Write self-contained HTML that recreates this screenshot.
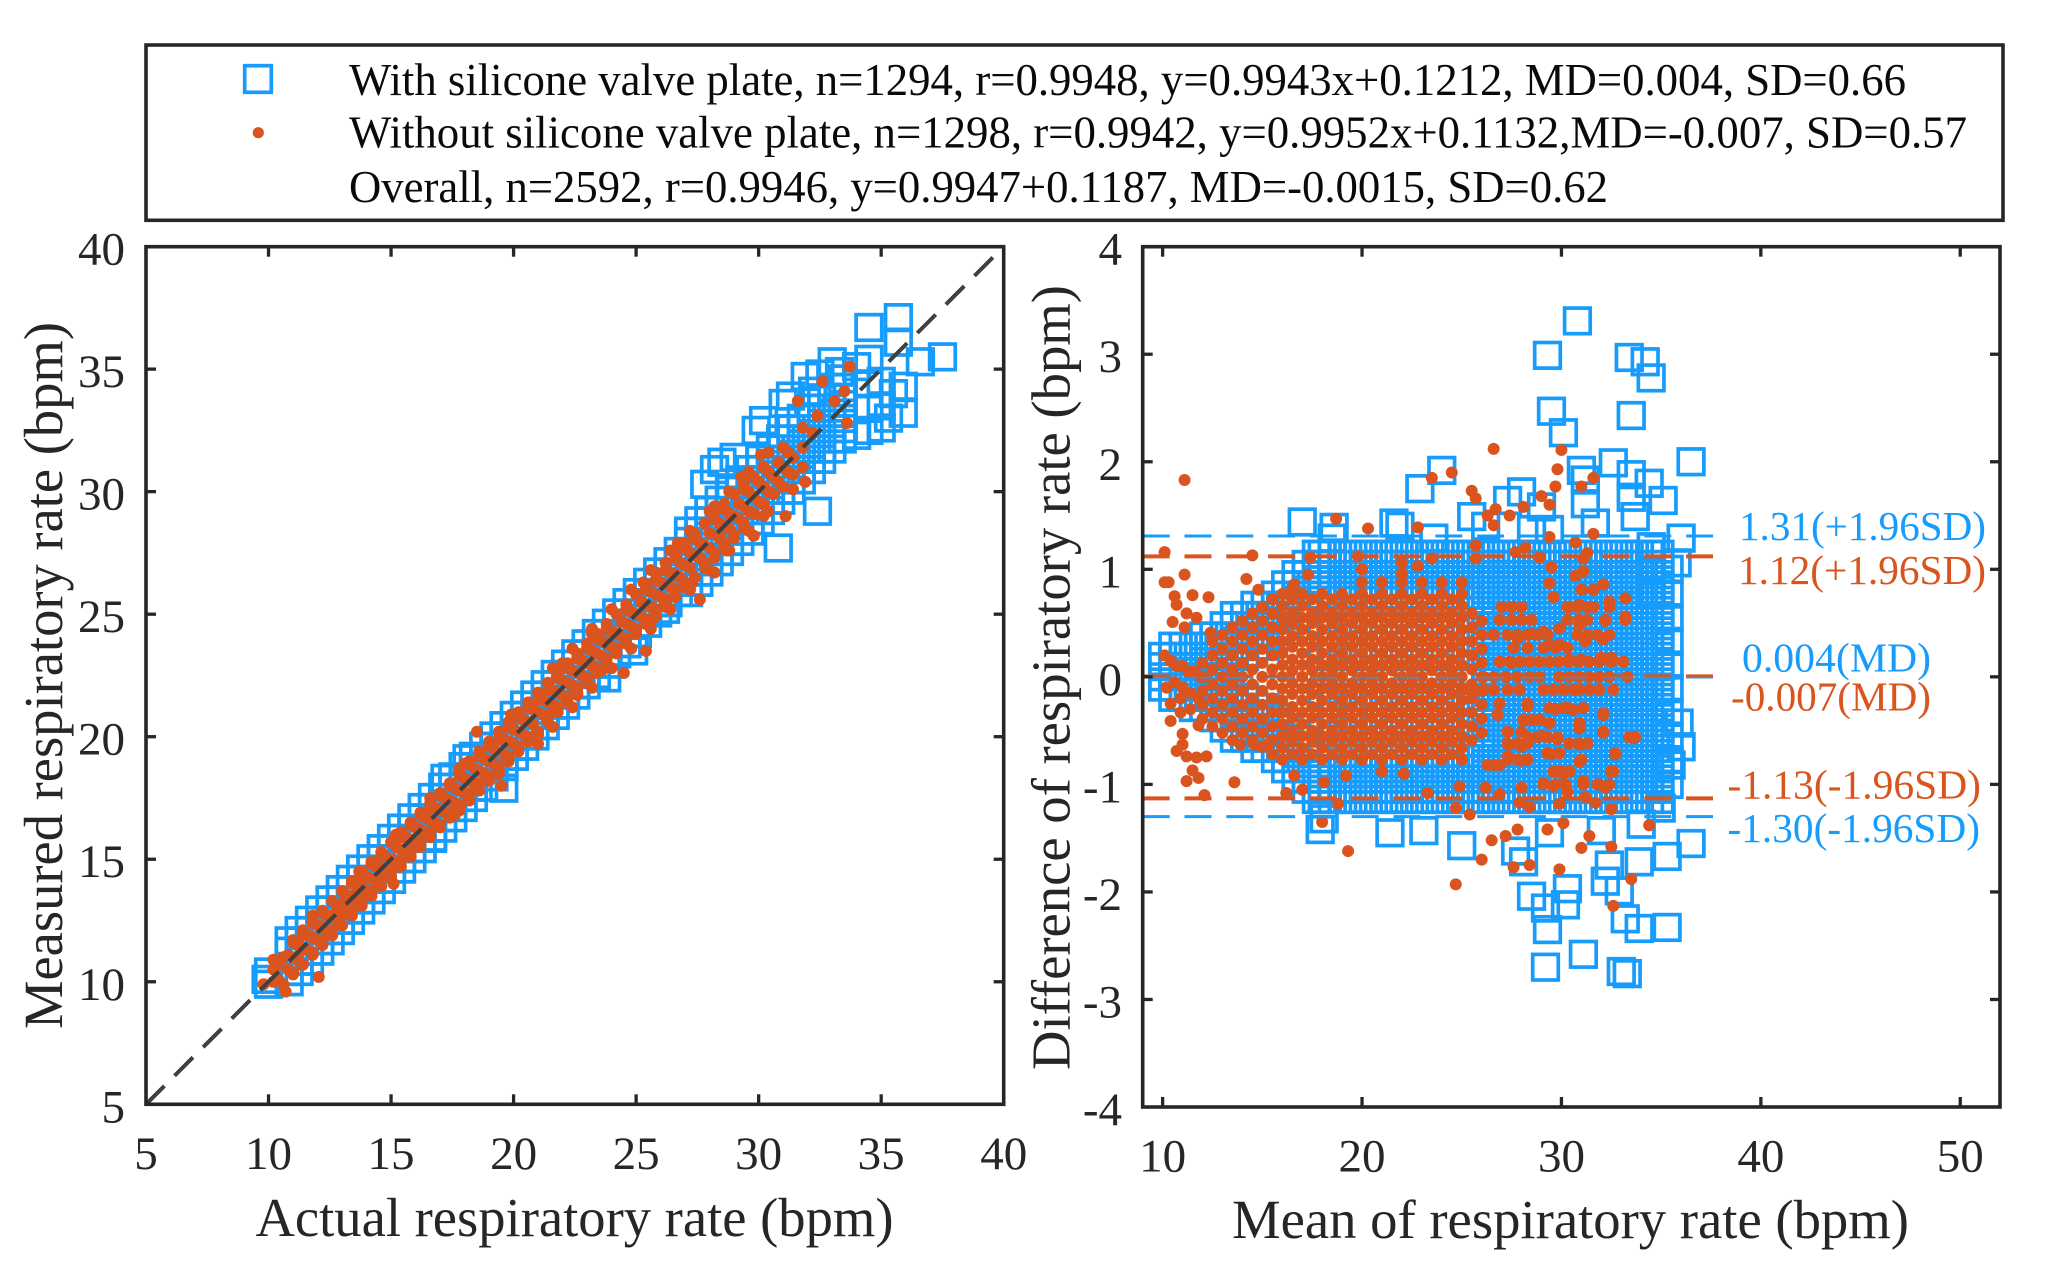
<!DOCTYPE html>
<html lang="en">
<head>
<meta charset="utf-8">
<title>Respiratory rate agreement charts</title>
<style>
html,body{margin:0;padding:0;background:#fff;}
svg{display:block;}
text{font-family:"Liberation Serif","Times New Roman",serif;}
</style>
</head>
<body>
<svg id="figure" xmlns="http://www.w3.org/2000/svg" width="2050" height="1263" viewBox="0 0 2050 1263">
<rect x="0" y="0" width="2050" height="1263" fill="#fff"/>
<g id="left-plot"></g>
<g id="right-plot"></g>
<g>
<rect x="146" y="45" width="1857" height="175.3" fill="#fff" stroke="#262626" stroke-width="3.6"/>
<rect x="244.7" y="65.7" width="26.6" height="26.6" fill="none" stroke="#169CFC" stroke-width="3.7"/>
<circle cx="258.3" cy="132.7" r="5.6" fill="#D9541E"/>
<text x="349" y="95" font-size="46" fill="#0a0a0a" textLength="1557" lengthAdjust="spacingAndGlyphs">With silicone valve plate, n=1294, r=0.9948, y=0.9943x+0.1212, MD=0.004, SD=0.66</text>
<text x="349" y="147.7" font-size="46" fill="#0a0a0a" textLength="1618" lengthAdjust="spacingAndGlyphs">Without silicone valve plate, n=1298, r=0.9942, y=0.9952x+0.1132,MD=-0.007, SD=0.57</text>
<text x="349" y="202" font-size="46" fill="#0a0a0a" textLength="1259" lengthAdjust="spacingAndGlyphs">Overall, n=2592, r=0.9946, y=0.9947+0.1187, MD=-0.0015, SD=0.62</text>
</g>
</svg>
<script>
/* ---------- left chart: measured vs actual ---------- */
const leftTicks = [5,10,15,20,25,30,35,40];
const withActual = [
36.6,37.5,35.7,35.7,35.9,35.9,34.5,34.5,33,32.4,31.9,32.2,32.5,33.3,31.3,31,30.2,29.9,29,28.5,28.2,27.8,30.8,18.1,17.2,19.6,16.7,24.9,23.8,26.2,9.9,10,10,
34,34.5,35,35,35,34.5,34,34.5,35.3,35.5,
10.84,10.84,10.84,10.84,
11.25,11.25,11.25,11.25,
11.67,11.67,11.67,11.67,
12.09,12.09,12.09,12.09,
12.51,12.51,12.51,12.51,
12.93,12.93,12.93,12.93,
13.34,13.34,13.34,13.34,
13.76,13.76,13.76,13.76,
14.18,14.18,14.18,14.18,
14.6,14.6,14.6,14.6,
15.02,15.02,15.02,15.02,
15.43,15.43,15.43,15.43,
15.85,15.85,15.85,15.85,
16.27,16.27,16.27,16.27,
16.69,16.69,16.69,16.69,
17.11,17.11,17.11,17.11,
17.52,17.52,17.52,17.52,
17.94,17.94,17.94,17.94,
18.36,18.36,18.36,18.36,
18.78,18.78,18.78,18.78,
19.2,19.2,19.2,19.2,
19.61,19.61,19.61,19.61,
20.03,20.03,20.03,20.03,
20.45,20.45,20.45,20.45,
20.87,20.87,20.87,20.87,
21.29,21.29,21.29,21.29,
21.7,21.7,21.7,21.7,
22.12,22.12,22.12,22.12,
22.54,22.54,22.54,22.54,
22.96,22.96,22.96,22.96,
23.38,23.38,23.38,23.38,
23.79,23.79,23.79,23.79,
24.21,24.21,24.21,24.21,
24.63,24.63,24.63,24.63,
25.05,25.05,25.05,25.05,
25.47,25.47,25.47,25.47,
25.88,25.88,25.88,25.88,
26.3,26.3,26.3,26.3,
26.72,26.72,26.72,26.72,
27.14,27.14,27.14,27.14,27.14,27.14,
27.56,27.56,27.56,27.56,27.56,27.56,
27.97,27.97,27.97,27.97,27.97,27.97,
28.39,28.39,28.39,28.39,28.39,28.39,
28.81,28.81,28.81,28.81,28.81,28.81,
29.23,29.23,29.23,29.23,29.23,29.23,
29.65,29.65,29.65,29.65,29.65,29.65,
30.06,30.06,30.06,30.06,30.06,30.06,
30.48,30.48,30.48,30.48,30.48,30.48,
30.9,30.9,30.9,30.9,30.9,30.9,
31.32,31.32,31.32,31.32,31.32,31.32,
31.74,31.74,31.74,31.74,31.74,31.74,
32.15,32.15,32.15,32.15,32.15,32.15,
32.57,32.57,32.57,32.57,32.57,32.57,
32.99,32.99,32.99,32.99,32.99,32.99,
33.41,33.41,33.41,33.41,33.41,33.41];
const withMeasured = [
35.3,35.5,37.1,36.1,34.3,33.2,35.4,36.7,35.3,29.2,34.7,34.1,34.8,34.9,33.9,33.6,32.9,32.5,31.4,31.2,30.9,30.3,27.7,19.1,18.3,17.9,15.9,23.5,22.4,25.2,10.1,9.9,10.4,
32.3,32.5,32.6,33.5,34.5,33.4,35.1,34.4,33,34,
10,10.42,11.25,11.67,
10.42,10.84,11.67,12.09,
10.84,11.25,12.09,12.51,
11.25,11.67,12.51,12.93,
11.67,12.09,12.93,13.34,
12.09,12.51,13.34,13.76,
12.51,12.93,13.76,14.18,
12.93,13.34,14.18,14.6,
13.34,13.76,14.6,15.02,
13.76,14.18,15.02,15.43,
14.18,14.6,15.43,15.85,
14.6,15.02,15.85,16.27,
15.02,15.43,16.27,16.69,
15.43,15.85,16.69,17.11,
15.85,16.27,17.11,17.52,
16.27,16.69,17.52,17.94,
16.69,17.11,17.94,18.36,
17.11,17.52,18.36,18.78,
17.52,17.94,18.78,19.2,
17.94,18.36,19.2,19.61,
18.36,18.78,19.61,20.03,
18.78,19.2,20.03,20.45,
19.2,19.61,20.45,20.87,
19.61,20.03,20.87,21.29,
20.03,20.45,21.29,21.7,
20.45,20.87,21.7,22.12,
20.87,21.29,22.12,22.54,
21.29,21.7,22.54,22.96,
21.7,22.12,22.96,23.38,
22.12,22.54,23.38,23.79,
22.54,22.96,23.79,24.21,
22.96,23.38,24.21,24.63,
23.38,23.79,24.63,25.05,
23.79,24.21,25.05,25.47,
24.21,24.63,25.47,25.88,
24.63,25.05,25.88,26.3,
25.05,25.47,26.3,26.72,
25.47,25.88,26.72,27.14,
25.88,26.3,27.14,27.56,
25.88,26.3,26.72,27.56,27.97,28.39,
26.3,26.72,27.14,27.97,28.39,28.81,
26.72,27.14,27.56,28.39,28.81,29.23,
27.14,27.56,27.97,28.81,29.23,29.65,
27.56,27.97,28.39,29.23,29.65,30.06,
27.97,28.39,28.81,29.65,30.06,30.48,
28.39,28.81,29.23,30.06,30.48,30.9,
28.81,29.23,29.65,30.48,30.9,31.32,
29.23,29.65,30.06,30.9,31.32,31.74,
29.65,30.06,30.48,31.32,31.74,32.15,
30.06,30.48,30.9,31.74,32.15,32.57,
30.48,30.9,31.32,32.15,32.57,32.99,
30.9,31.32,31.74,32.57,32.99,33.41,
31.32,31.74,32.15,32.99,33.41,33.83,
31.74,32.15,32.57,33.41,33.83,34.25,
32.15,32.57,32.99,33.83,34.25,34.6];
const withoutActual = [
9.8,10.2,10.2,10.2,
10.6,10.7,10.6,
11,11,11,
11.4,11.4,11.4,
11.8,11.8,11.8,11.8,
12.2,12.2,12.2,12.05,
12.6,12.6,
13,13.1,
13.4,13.4,13.4,
13.8,13.8,13.8,
14.2,14.2,14.2,
14.6,14.6,14.6,
15,15,15.1,
15.4,15.4,15.4,
15.8,15.8,15.8,
16.2,16.2,16.2,
16.6,16.6,16.6,
17,17,17,
17.4,17.4,17.4,
17.8,17.8,17.8,17.8,
18.2,18.2,18.5,
18.6,18.6,18.6,
19,19,19,
19.4,19.5,19.4,
19.8,19.8,19.8,
20.2,20.2,20.2,
20.6,20.6,20.6,
21,21,21,
21.4,21.4,21.4,
21.8,21.8,21.8,
22.2,22.2,22.2,
22.6,22.6,22.6,
23,23,23,
23.4,23.4,23.4,
23.8,23.8,23.8,
24.2,24.2,24.5,
24.6,24.6,24.6,
25,25,25.4,
25.4,25.4,25.4,
25.8,25.8,25.8,
26.2,26.3,26.2,
26.6,26.6,26.6,
27,27,27,
27.6,27.4,27.4,
27.8,27.8,28.2,
28.2,28.4,28.2,
28.6,28.6,28.6,
29,29,29.8,
29.4,29.4,29.4,
29.8,29.8,29.8,
30.2,30.2,30.2,
30.6,30.6,31.1,
31,31,31,
31.4,31.4,31.6,
31.8,31.8,31.8,
32.4,32.6,32.2,
33.7,33.5,33.1,33.6,
10.4,10.4,10.8,10.8,11.2,11.2,11.6,11.6,12,12,12.4,12.4,12.8,12.8,13.2,13.2,
13.6,13.6,14,14,14.4,14.4,14.8,14.8,15.2,15.2,15.6,15.6,16,16,16.4,16.4,
16.8,16.8,17.2,17.2,17.6,17.6,18,18,18.4,18.4,18.8,18.8,19.2,19.2,19.6,19.6,
20,20,20.4,20.4,20.8,20.8,21.2,21.2,21.6,21.6,22,22,22.4,22.4,22.8,22.8,
23.2,23.2,23.6,23.6,24,24,24.4,24.4,24.8,24.8,25.2,25.2,25.6,25.6,26,26,
26.4,26.4,26.8,26.8,27.2,27.2,27.6,27.6,28,28,28.4,28.4,28.8,28.8,29.2,29.2,
29.6,29.6,30,30,30.4,30.4,30.8,30.8,31.2,31.2,
13.7,15.2,16.6,18,19.9,22,23.2,25.3,26.7,28.2,29.3,30.1,
17.6,18.2,19.4,21,22.6,23.6,25.6,27.3,28.7,30.2,31.4,31.9,
11,11,11.4,11.4,11.8,11.8,12.2,12.2,12.6,12.6,13,13,13.4,13.4,13.8,13.8,14.2,14.2,14.6,14.6,
15,15,15.4,15.4,15.8,15.8,16.2,16.2,16.6,16.6,17,17,17.4,17.4,17.8,17.8,18.2,18.2,18.6,18.6,
19,19,19.4,19.4,19.8,19.8,20.2,20.2,20.6,20.6,21,21,21.4,21.4,
21.8,21.8,22.2,22.2,22.6,22.6,23,23,23.4,23.4,23.8,23.8,24.2,24.2,24.6,24.6,25,25,25.4,25.4,
25.8,25.8,26.2,26.2,26.6,26.6,27,27,27.4,27.4,27.8,27.8,28.2,28.2,28.6,28.6,29,29,29.4,29.4,
21.6,21.6,22.4,22.4,23.2,23.2,24,24,24.8,24.8,25.6,25.6,26.4,26.4,27.2,27.2,28,28,28.8,28.8,29.6,29.6,30.4,30.4];
const withoutMeasured = [
9.9,10,10.5,10.9,
9.9,9.6,11,
10.4,11,11.6,
10.7,11.3,11.9,
11.2,11.8,12.4,12.7,
11.7,12.2,12.8,10.2,
12.1,12.7,
12.7,13.3,
13,13.5,14,
13.4,13.9,14.3,
13.7,14.2,14.8,
14.2,14.6,15.1,
14.5,15,14,
14.9,15.4,15.9,
15.3,15.8,16.4,
15.7,16.2,16.8,
16.1,16.6,17.1,
16.4,17,17.6,
16.9,17.4,18,
17.2,17.8,18.4,18.7,
17.7,18.2,20.2,
18.1,18.6,19.2,
18.4,19,19.6,
18.8,18,19.9,
19.2,19.8,20.4,
19.6,20.2,20.8,
20,20.6,21.2,
19.7,21,21.5,
20.9,21.4,21.9,
21.2,21.8,22.4,
21.6,22.2,22.8,
22,22.6,23.2,
22.4,23,23.6,
22.8,23.4,24,
23.2,23.8,24.4,
23.6,24.2,22.6,
24,24.6,25.2,
24.4,25,23.5,
24.8,25.4,26,
25.2,25.8,26.4,
25.6,26.2,26.8,
26,26.6,27.3,
26.3,27,27.7,
25.6,27.4,28.1,
27.1,27.8,26.7,
27.5,28.2,28.9,
27.9,28.6,29.3,
28.2,29,28.2,
28.7,29.4,30.1,
29.1,29.8,30.6,
29.5,30.2,31,
29.9,30.6,29,
30.2,31,31.8,
30.7,31.4,33.7,
31,31.8,32.6,
33.1,34.5,32.4,
35.1,34.1,33.7,32.8,
10.1,10.7,10.5,11.1,10.9,11.5,11.3,11.9,11.7,12.3,12.1,12.7,12.5,13.1,12.9,13.5,
13.3,13.9,13.7,14.3,14.1,14.7,14.5,15.1,14.9,15.5,15.3,15.9,15.7,16.3,16.1,16.7,
16.5,17.1,16.9,17.5,17.3,17.9,17.7,18.3,18.1,18.7,18.5,19.1,18.9,19.5,19.3,19.9,
19.7,20.3,20.1,20.7,20.5,21.1,20.9,21.5,21.3,21.9,21.7,22.3,22.1,22.7,22.5,23.1,
22.9,23.5,23.3,23.9,23.7,24.3,24.1,24.7,24.5,25.1,24.9,25.5,25.3,25.9,25.7,26.3,
26.1,26.7,26.5,27.1,26.9,27.5,27.3,27.9,27.7,28.3,28.1,28.7,28.5,29.1,28.9,29.5,
29.2,30,29.6,30.4,30,30.8,30.4,31.2,30.8,31.6,
14.5,16,17.5,18.9,20.9,23,24.2,26.3,27.9,29.4,30.6,31.5,
16.8,17.4,18.5,20.1,21.7,22.7,24.7,26.3,27.6,29,30.1,30.4,
10.3,11.7,10.7,12.1,11.1,12.5,11.5,12.9,11.9,13.3,12.3,13.7,12.7,14.1,13.1,14.5,13.5,14.9,13.9,15.3,
14.3,15.7,14.7,16.1,15.1,16.5,15.5,16.9,15.9,17.3,16.3,17.7,16.7,18.1,17,18.6,17.4,19,17.8,19.4,
18.2,19.8,18.6,20.2,19,20.6,19.4,21,19.8,21.4,20.2,21.8,20.6,22.2,
21,22.6,21.4,23,21.8,23.4,22.2,23.8,22.6,24.2,23,24.6,23.4,25,23.8,25.4,24.2,25.8,24.6,26.2,
24.9,26.7,25.3,27.1,25.7,27.5,26.1,27.9,26.5,28.3,26.9,28.7,27.3,29.1,27.7,29.5,28.1,29.9,28.5,30.3,
20.4,22.8,21.2,23.6,22,24.4,22.8,25.2,23.6,26,24.4,26.8,25.2,27.6,26,28.4,26.8,29.2,27.6,30,28.4,30.8,29.2,31.6];

/* ---------- right chart: difference vs mean ---------- */
const rightXTicks = [10,20,30,40,50];
const rightYTicks = [-4,-3,-2,-1,0,1,2,3,4];
const rightYTickLabels = ['-4','-3','-2','-1','0','1','2','3','4'];
const limitValues = [1.31,1.12,0.004,-0.007,-1.13,-1.30];
const withMean = [
30.8,29.3,33.4,34.2,34.5,29.5,33.5,30.1,36.5,24,22.9,31,32.6,33.5,34.4,35.1,31.2,28,27.3,29,33.5,33.7,31.2,
17,18.6,18.5,21.6,21.9,23.6,25.5,26.2,28.5,29.4,31.7,36,34.5,35.8,34.5,34.5,
36.5,35.3,33.9,32.2,32.9,30.3,28.5,29.2,30.2,33.2,33.9,35.3,29.3,31.1,29.2,33,33.3,17.9,18.1,21.4,23.1,25,27.7,28.1,29.4,32.4,35,34,32,
35.9,36,35.5,
10,10,10,10,
10.51,10.51,10.51,10.51,10.51,10.51,
11.03,11.03,11.03,11.03,11.03,11.03,
11.54,11.54,11.54,11.54,11.54,11.54,11.54,
12.06,12.06,12.06,12.06,12.06,12.06,12.06,12.06,
12.57,12.57,12.57,12.57,12.57,12.57,12.57,12.57,12.57,
13.09,13.09,13.09,13.09,13.09,13.09,13.09,13.09,13.09,13.09,13.09,
13.6,13.6,13.6,13.6,13.6,13.6,13.6,13.6,13.6,13.6,
14.11,14.11,14.11,14.11,14.11,14.11,14.11,14.11,14.11,14.11,
14.63,14.63,14.63,14.63,14.63,14.63,14.63,14.63,14.63,14.63,
15.14,15.14,15.14,15.14,15.14,15.14,15.14,15.14,15.14,15.14,
15.66,15.66,15.66,15.66,15.66,15.66,15.66,15.66,15.66,15.66,
16.17,16.17,16.17,16.17,16.17,16.17,16.17,16.17,16.17,16.17,
16.69,16.69,16.69,16.69,16.69,16.69,16.69,16.69,16.69,16.69,
17.2,17.2,17.2,17.2,17.2,17.2,17.2,17.2,17.2,17.2,
17.71,17.71,17.71,17.71,17.71,17.71,17.71,17.71,17.71,17.71,
18,18,18,18,18,18,18,18,18,18,18,18,18,18,
18.51,18.51,18.51,18.51,18.51,18.51,18.51,18.51,18.51,18.51,18.51,18.51,18.51,18.51,
19.03,19.03,19.03,19.03,19.03,19.03,19.03,19.03,19.03,19.03,19.03,19.03,19.03,19.03,
19.54,19.54,19.54,19.54,19.54,19.54,19.54,19.54,19.54,19.54,19.54,19.54,19.54,19.54,
20.06,20.06,20.06,20.06,20.06,20.06,20.06,20.06,20.06,20.06,20.06,20.06,20.06,20.06,
20.57,20.57,20.57,20.57,20.57,20.57,20.57,20.57,20.57,20.57,20.57,20.57,20.57,20.57,
21.09,21.09,21.09,21.09,21.09,21.09,21.09,21.09,21.09,21.09,21.09,21.09,21.09,21.09,
21.6,21.6,21.6,21.6,21.6,21.6,21.6,21.6,21.6,21.6,21.6,21.6,21.6,21.6,
22.11,22.11,22.11,22.11,22.11,22.11,22.11,22.11,22.11,22.11,22.11,22.11,22.11,22.11,
22.63,22.63,22.63,22.63,22.63,22.63,22.63,22.63,22.63,22.63,22.63,22.63,22.63,22.63,
23.14,23.14,23.14,23.14,23.14,23.14,23.14,23.14,23.14,23.14,23.14,23.14,23.14,23.14,
23.66,23.66,23.66,23.66,23.66,23.66,23.66,23.66,23.66,23.66,23.66,23.66,23.66,23.66,
24.17,24.17,24.17,24.17,24.17,24.17,24.17,24.17,24.17,24.17,24.17,24.17,24.17,24.17,
24.69,24.69,24.69,24.69,24.69,24.69,24.69,24.69,24.69,24.69,24.69,24.69,24.69,24.69,
25.2,25.2,25.2,25.2,25.2,25.2,25.2,25.2,25.2,25.2,25.2,25.2,25.2,25.2,
25.71,25.71,25.71,25.71,25.71,25.71,25.71,25.71,25.71,25.71,25.71,25.71,25.71,25.71,
26.2,26.2,26.2,26.2,26.2,26.2,26.2,26.2,26.2,26.2,26.2,26.2,26.2,26.2,26.2,26.2,26.2,26.2,26.2,26.2,26.2,26.2,26.2,26.2,26.2,
26.71,26.71,26.71,26.71,26.71,26.71,26.71,26.71,26.71,26.71,26.71,26.71,26.71,26.71,26.71,26.71,26.71,26.71,26.71,26.71,26.71,26.71,26.71,26.71,26.71,
27.23,27.23,27.23,27.23,27.23,27.23,27.23,27.23,27.23,27.23,27.23,27.23,27.23,27.23,27.23,27.23,27.23,27.23,27.23,27.23,27.23,27.23,27.23,27.23,27.23,
27.74,27.74,27.74,27.74,27.74,27.74,27.74,27.74,27.74,27.74,27.74,27.74,27.74,27.74,27.74,27.74,27.74,27.74,27.74,27.74,27.74,27.74,27.74,27.74,27.74,
28.26,28.26,28.26,28.26,28.26,28.26,28.26,28.26,28.26,28.26,28.26,28.26,28.26,28.26,28.26,28.26,28.26,28.26,28.26,28.26,28.26,28.26,28.26,28.26,28.26,
28.77,28.77,28.77,28.77,28.77,28.77,28.77,28.77,28.77,28.77,28.77,28.77,28.77,28.77,28.77,28.77,28.77,28.77,28.77,28.77,28.77,28.77,28.77,28.77,28.77,
29.28,29.28,29.28,29.28,29.28,29.28,29.28,29.28,29.28,29.28,29.28,29.28,29.28,29.28,29.28,29.28,29.28,29.28,29.28,29.28,29.28,29.28,29.28,29.28,29.28,
29.8,29.8,29.8,29.8,29.8,29.8,29.8,29.8,29.8,29.8,29.8,29.8,29.8,29.8,29.8,29.8,29.8,29.8,29.8,29.8,29.8,29.8,29.8,29.8,29.8,
30.31,30.31,30.31,30.31,30.31,30.31,30.31,30.31,30.31,30.31,30.31,30.31,30.31,30.31,30.31,30.31,30.31,30.31,30.31,30.31,30.31,30.31,30.31,30.31,30.31,
30.83,30.83,30.83,30.83,30.83,30.83,30.83,30.83,30.83,30.83,30.83,30.83,30.83,30.83,30.83,30.83,30.83,30.83,30.83,30.83,30.83,30.83,30.83,30.83,30.83,
31.34,31.34,31.34,31.34,31.34,31.34,31.34,31.34,31.34,31.34,31.34,31.34,31.34,31.34,31.34,31.34,31.34,31.34,31.34,31.34,31.34,31.34,31.34,31.34,31.34,
31.85,31.85,31.85,31.85,31.85,31.85,31.85,31.85,31.85,31.85,31.85,31.85,31.85,31.85,31.85,31.85,31.85,31.85,31.85,31.85,31.85,31.85,31.85,31.85,31.85,
32.37,32.37,32.37,32.37,32.37,32.37,32.37,32.37,32.37,32.37,32.37,32.37,32.37,32.37,32.37,32.37,32.37,32.37,32.37,32.37,32.37,32.37,32.37,32.37,32.37,
32.88,32.88,32.88,32.88,32.88,32.88,32.88,32.88,32.88,32.88,32.88,32.88,32.88,32.88,32.88,32.88,32.88,32.88,32.88,32.88,32.88,32.88,32.88,32.88,32.88,
33.4,33.4,33.4,33.4,33.4,33.4,33.4,33.4,33.4,33.4,33.4,33.4,33.4,33.4,33.4,33.4,33.4,33.4,33.4,33.4,33.4,33.4,33.4,33.4,33.4,
33.91,33.91,33.91,33.91,33.91,33.91,33.91,33.91,33.91,33.91,33.91,33.91,33.91,33.91,33.91,33.91,33.91,33.91,33.91,33.91,33.91,33.91,33.91,33.91,33.91,
34.42,34.42,34.42,34.42,34.42,34.42,34.42,34.42,34.42,34.42,34.42,34.42,34.42,34.42,34.42,34.42,34.42,34.42,34.42,34.42,34.42,34.42,34.42,34.42,34.42,
34.94,34.94,34.94,34.94,34.94,34.94,34.94,34.94,34.94,34.94,34.94,34.94,34.94,34.94,34.94,34.94,34.94,34.94,34.94,34.94,34.94,34.94,34.94,34.94,34.94,
35.4,35.4,35.4,35.4,35.4,35.4,35.4,35.4,35.4,35.4];
const withDiff = [
3.31,2.99,2.97,2.93,2.78,2.47,2.43,2.27,2,1.92,1.75,1.92,1.99,1.88,1.8,1.64,1.83,1.72,1.64,1.58,1.67,1.49,1.61,
1.44,1.39,1.29,1.43,1.4,1.29,1.49,1.4,1.37,1.37,1.43,1.29,1.21,1.06,0.99,0.78,
-1.55,-1.67,-1.72,-1.9,-1.99,-1.97,-2.04,-2.15,-2.12,-2.25,-2.34,-2.33,-2.35,-2.58,-2.7,-2.74,-2.76,-1.42,-1.32,-1.45,-1.43,-1.57,-1.62,-1.72,-1.45,-1.75,-1.22,-1.37,-1.43,
-0.43,-0.65,-0.82,
-.095,0,.095,.19,
-.19,-.095,0,.095,.19,.285,
-.19,-.095,0,.095,.19,.285,
-.285,-.19,-.095,0,.095,.19,.285,
-.285,-.19,-.095,0,.095,.19,.285,.38,
-.38,-.285,-.19,-.095,0,.095,.19,.285,.38,
-.475,-.38,-.285,-.19,-.095,0,.095,.19,.285,.38,.475,
-.57,-.475,-.38,-.285,-.19,.19,.285,.38,.475,.57,
-.57,-.475,-.38,-.285,-.19,.19,.285,.38,.475,.57,
-.665,-.57,-.475,-.38,-.285,.285,.38,.475,.57,.665,
-.665,-.57,-.475,-.38,-.285,.285,.38,.475,.57,.665,
-.76,-.665,-.57,-.475,-.38,.38,.475,.57,.665,.76,
-.855,-.76,-.665,-.57,-.475,.475,.57,.665,.76,.855,
-.95,-.855,-.76,-.665,-.57,.57,.665,.76,.855,.95,
-1.045,-.95,-.855,-.76,-.665,.665,.76,.855,.95,1.045,
-1.14,-1.045,-.95,-.855,-.76,.76,.855,.95,1.045,1.14,
-1.14,-1.045,-.95,-.855,-.76,-.475,-.19,.19,.475,.76,.855,.95,1.045,1.14,
-1.14,-1.045,-.95,-.855,-.76,-.475,-.19,.19,.475,.76,.855,.95,1.045,1.14,
-1.14,-1.045,-.95,-.855,-.76,-.475,-.19,.19,.475,.76,.855,.95,1.045,1.14,
-1.14,-1.045,-.95,-.855,-.76,-.475,-.19,.19,.475,.76,.855,.95,1.045,1.14,
-1.14,-1.045,-.95,-.855,-.76,-.475,-.19,.19,.475,.76,.855,.95,1.045,1.14,
-1.14,-1.045,-.95,-.855,-.76,-.475,-.19,.19,.475,.76,.855,.95,1.045,1.14,
-1.14,-1.045,-.95,-.855,-.76,-.475,-.19,.19,.475,.76,.855,.95,1.045,1.14,
-1.14,-1.045,-.95,-.855,-.76,-.475,-.19,.19,.475,.76,.855,.95,1.045,1.14,
-1.14,-1.045,-.95,-.855,-.76,-.475,-.19,.19,.475,.76,.855,.95,1.045,1.14,
-1.14,-1.045,-.95,-.855,-.76,-.475,-.19,.19,.475,.76,.855,.95,1.045,1.14,
-1.14,-1.045,-.95,-.855,-.76,-.475,-.19,.19,.475,.76,.855,.95,1.045,1.14,
-1.14,-1.045,-.95,-.855,-.76,-.475,-.19,.19,.475,.76,.855,.95,1.045,1.14,
-1.14,-1.045,-.95,-.855,-.76,-.475,-.19,.19,.475,.76,.855,.95,1.045,1.14,
-1.14,-1.045,-.95,-.855,-.76,-.475,-.19,.19,.475,.76,.855,.95,1.045,1.14,
-1.14,-1.045,-.95,-.855,-.76,-.475,-.19,.19,.475,.76,.855,.95,1.045,1.14,
-1.14,-1.045,-.95,-.855,-.76,-.475,-.19,.19,.475,.76,.855,.95,1.045,1.14,
-1.14,-1.045,-.95,-.855,-.76,-.665,-.57,-.475,-.38,-.285,-.19,-.095,0,.095,.19,.285,.38,.475,.57,.665,.76,.855,.95,1.045,1.14,
-1.14,-1.045,-.95,-.855,-.76,-.665,-.57,-.475,-.38,-.285,-.19,-.095,0,.095,.19,.285,.38,.475,.57,.665,.76,.855,.95,1.045,1.14,
-1.14,-1.045,-.95,-.855,-.76,-.665,-.57,-.475,-.38,-.285,-.19,-.095,0,.095,.19,.285,.38,.475,.57,.665,.76,.855,.95,1.045,1.14,
-1.14,-1.045,-.95,-.855,-.76,-.665,-.57,-.475,-.38,-.285,-.19,-.095,0,.095,.19,.285,.38,.475,.57,.665,.76,.855,.95,1.045,1.14,
-1.14,-1.045,-.95,-.855,-.76,-.665,-.57,-.475,-.38,-.285,-.19,-.095,0,.095,.19,.285,.38,.475,.57,.665,.76,.855,.95,1.045,1.14,
-1.14,-1.045,-.95,-.855,-.76,-.665,-.57,-.475,-.38,-.285,-.19,-.095,0,.095,.19,.285,.38,.475,.57,.665,.76,.855,.95,1.045,1.14,
-1.14,-1.045,-.95,-.855,-.76,-.665,-.57,-.475,-.38,-.285,-.19,-.095,0,.095,.19,.285,.38,.475,.57,.665,.76,.855,.95,1.045,1.14,
-1.14,-1.045,-.95,-.855,-.76,-.665,-.57,-.475,-.38,-.285,-.19,-.095,0,.095,.19,.285,.38,.475,.57,.665,.76,.855,.95,1.045,1.14,
-1.14,-1.045,-.95,-.855,-.76,-.665,-.57,-.475,-.38,-.285,-.19,-.095,0,.095,.19,.285,.38,.475,.57,.665,.76,.855,.95,1.045,1.14,
-1.14,-1.045,-.95,-.855,-.76,-.665,-.57,-.475,-.38,-.285,-.19,-.095,0,.095,.19,.285,.38,.475,.57,.665,.76,.855,.95,1.045,1.14,
-1.14,-1.045,-.95,-.855,-.76,-.665,-.57,-.475,-.38,-.285,-.19,-.095,0,.095,.19,.285,.38,.475,.57,.665,.76,.855,.95,1.045,1.14,
-1.14,-1.045,-.95,-.855,-.76,-.665,-.57,-.475,-.38,-.285,-.19,-.095,0,.095,.19,.285,.38,.475,.57,.665,.76,.855,.95,1.045,1.14,
-1.14,-1.045,-.95,-.855,-.76,-.665,-.57,-.475,-.38,-.285,-.19,-.095,0,.095,.19,.285,.38,.475,.57,.665,.76,.855,.95,1.045,1.14,
-1.14,-1.045,-.95,-.855,-.76,-.665,-.57,-.475,-.38,-.285,-.19,-.095,0,.095,.19,.285,.38,.475,.57,.665,.76,.855,.95,1.045,1.14,
-1.14,-1.045,-.95,-.855,-.76,-.665,-.57,-.475,-.38,-.285,-.19,-.095,0,.095,.19,.285,.38,.475,.57,.665,.76,.855,.95,1.045,1.14,
-1.14,-1.045,-.95,-.855,-.76,-.665,-.57,-.475,-.38,-.285,-.19,-.095,0,.095,.19,.285,.38,.475,.57,.665,.76,.855,.95,1.045,1.14,
-1.14,-1.045,-.95,-.855,-.76,-.665,-.57,-.475,-.38,-.285,-.19,-.095,0,.095,.19,.285,.38,.475,.57,.665,.76,.855,.95,1.045,1.14,
-1.14,-1.045,-.95,-.855,-.76,-.665,-.57,-.475,-.38,-.285,-.19,-.095,0,.095,.19,.285,.38,.475,.57,.665,.76,.855,.95,1.045,1.14,
-1,-.77,-.55,-.33,-.11,.11,.33,.55,.77,1];
const withoutMean = [
11.1,26.6,30,29.8,23.5,24.5,29.7,31,31.6,25.5,25.7,29,29.4,28.1,26.7,27.4,26.3,26.6,
18.7,20.3,22.8,31.6,29.4,30.7,25.7,28.2,10.1,14.5,17.4,19.8,23.5,25.7,27.7,28.9,31.3,31.1,
22,22,22.8,20,17.3,11.1,14.2,10.1,10.3,14.8,16.6,16.5,11.5,12.3,10.6,10.7,11.2,11.7,10.5,11.1,12.4,
29.5,30.7,31.1,32.1,29.4,31.6,31,33.2,32.4,29.6,33.2,32.2,32.1,31.2,32.5,32,31,30.4,27.5,30.4,30.9,30.9,29.9,29.4,29.9,29.1,28.5,27.8,
24.7,19.3,33.5,32.6,29.9,28.4,27.6,26,26.5,27.2,27.8,29.3,31.4,31,32.5,34.4,30.1,18,18.8,25.4,24.7,28.4,27.9,32.5,31.7,31.2,29.9,23.3,16.2,12.1,13.6,11.2,11.8,11.5,10.7,11.2,11.7,12.2,11,11,10.4,10.9,11.8,13.9,14.6,15.3,
17,16.6,18.1,19.2,21,22.1,24.9,26.2,26.9,28,29.1,29.6,30.3,31.1,31.8,32.2,32.6,30.9,32.7,29.5,27.4,28,26.6,27.3,28,29.8,30.1,33.6,30.9,30.4,29.8,29,32.1,28.5,29.4,30.9,32.1,30.6,29.7,28.3,
10.1,10.4,10.7,11,11.3,11.6,11.9,10.2,10.6,11,11.4,11.8,10.4,10.9,11.4,
27,27.5,28,30.3,30.8,31.3,31.6,32.4,
26.9,27.5,28,28.5,30.3,30.9,31.3,32.2,33.2,
26.6,27.3,27.8,28.3,28.8,29.3,30.8,31.3,31.8,32.4,
27.6,28.3,29.1,29.7,30.3,
26.9,27.4,27.9,28.4,28.9,29.4,29.9,30.4,30.9,31.4,31.9,32.5,33.1,
26.1,26.6,27.2,27.8,28.4,28.9,29.9,30.4,30.9,31.4,31.9,32.4,33.3,
25.1,25.6,26.1,26.6,27.3,27.9,29.1,29.6,30.1,30.6,30.9,31.4,31.9,32.6,
26.9,28.3,
29.4,30.1,30.3,31.1,
26.8,32.1,
28.1,28.5,28.9,
29.4,30.9,
27.3,28,32.1,
28.3,28.8,29.3,29.8,33.4,33.7,
27.3,27.8,28.3,30.4,30.9,31.3,
29.3,29.9,32.7,
27.3,27.8,28.3,31,
26.3,26.9,
29.6,30,30.4,32.5,
29.1,29.7,30.2,31.1,31.9,32.4,
12,12,12,12,12,
12.5,12.5,12.5,12.5,12.5,12.5,12.5,
13,13,13,13,13,13,13,13,
13.5,13.5,13.5,13.5,13.5,13.5,13.5,13.5,13.5,
14,14,14,14,14,14,14,14,14,
14.5,14.5,14.5,14.5,14.5,14.5,14.5,14.5,14.5,14.5,
15,15,15,15,15,15,15,15,15,15,15,
15.5,15.5,15.5,15.5,15.5,15.5,15.5,15.5,15.5,15.5,15.5,15.5,
16,16,16,16,16,16,16,16,16,16,16,16,16,16,16,
16.5,16.5,16.5,16.5,16.5,16.5,16.5,16.5,16.5,16.5,16.5,16.5,16.5,16.5,
17,17,17,17,17,17,17,17,17,17,17,17,17,17,17,
17.5,17.5,17.5,17.5,17.5,17.5,17.5,17.5,17.5,17.5,17.5,17.5,17.5,17.5,
18,18,18,18,18,18,18,18,18,18,18,18,18,18,18,
18.5,18.5,18.5,18.5,18.5,18.5,18.5,18.5,18.5,18.5,18.5,18.5,18.5,18.5,
19,19,19,19,19,19,19,19,19,19,19,19,19,19,19,
19.5,19.5,19.5,19.5,19.5,19.5,19.5,19.5,19.5,19.5,19.5,19.5,19.5,19.5,
20,20,20,20,20,20,20,20,20,20,20,20,20,20,20,20,
20.5,20.5,20.5,20.5,20.5,20.5,20.5,20.5,20.5,20.5,20.5,20.5,20.5,20.5,
21,21,21,21,21,21,21,21,21,21,21,21,21,21,21,21,
21.5,21.5,21.5,21.5,21.5,21.5,21.5,21.5,21.5,21.5,21.5,21.5,21.5,21.5,
22,22,22,22,22,22,22,22,22,22,22,22,22,22,22,22,
22.5,22.5,22.5,22.5,22.5,22.5,22.5,22.5,22.5,22.5,22.5,22.5,22.5,22.5,
23,23,23,23,23,23,23,23,23,23,23,23,23,23,23,23,
23.5,23.5,23.5,23.5,23.5,23.5,23.5,23.5,23.5,23.5,23.5,23.5,23.5,23.5,
24,24,24,24,24,24,24,24,24,24,24,24,24,24,24,24,
24.5,24.5,24.5,24.5,24.5,24.5,24.5,24.5,24.5,24.5,24.5,24.5,24.5,24.5,
25,25,25,25,25,25,25,25,25,25,25,25,25,25,25,25,
25.5,25.5,25.5,25.5,25.5,25.5,25.5,25.5,25.5,25.5,
26,26,26,26,26,26,26,26,26];
const withoutDiff = [
1.83,2.12,2.11,1.93,1.85,1.9,1.77,1.77,1.85,1.73,1.66,1.68,1.6,1.58,1.56,1.5,1.5,1.41,
1.47,1.38,1.39,1.33,1.3,1.25,1.22,1.2,1.16,1.13,1.11,1.12,1.1,1.1,1.16,1.11,1.15,1.1,
1.06,0.96,1.03,1,0.95,0.95,0.91,0.88,0.88,0.81,0.86,0.81,0.76,0.74,0.75,0.67,0.59,0.55,0.51,0.46,0.41,
1.02,0.94,0.98,0.86,0.87,0.81,0.81,0.73,0.7,0.74,0.56,0.52,0.35,0.33,0.18,0.18,0.16,0.16,0.13,0.65,0.67,0.48,0.45,0.3,0.3,0.42,0.4,0.36,
-1.93,-1.62,-1.88,-2.13,-1.79,-1.75,-1.77,-1.7,-1.52,-1.48,-1.42,-1.42,-1.48,-1.59,-1.58,-1.38,-1.36,-1.35,-1.18,-1.28,-1.22,-1.21,-1.17,-1.23,-1.17,-1.12,-1.18,-1.08,-1.08,-1.1,-0.98,-0.97,-0.94,-0.87,-0.69,-0.74,-0.75,-0.74,-0.63,-0.53,-0.41,-0.33,-0.45,-0.63,-0.63,-0.63,
-1.05,-0.92,-0.98,-0.92,-0.88,-0.9,-1.02,-1.03,-1.09,-1.03,-0.99,-1.02,-1.07,-0.97,-1,-1.03,-0.88,-0.79,-0.72,-0.72,-0.63,-0.65,-0.82,-0.74,-0.78,-0.88,-0.9,-0.57,-0.63,-0.62,-0.58,-0.55,-0.52,-0.4,-0.43,-0.48,-0.34,-0.31,-0.3,-0.27,
0.2,0.15,0.1,0.1,0.05,0.05,0,-0.1,-0.05,-0.1,-0.15,-0.2,-0.25,-0.2,-0.3,
.65,.65,.65,.65,.65,.65,.65,.65,
.53,.53,.53,.53,.53,.53,.53,.53,.53,
.39,.39,.39,.39,.39,.39,.39,.39,.39,.39,
.27,.27,.27,.27,.27,
.14,.14,.14,.14,.14,.14,.14,.14,.14,.14,.14,.14,.14,
0,0,0,0,0,0,0,0,0,0,0,0,0,
-.12,-.12,-.12,-.12,-.12,-.12,-.12,-.12,-.12,-.12,-.12,-.12,-.12,-.12,
-.25,-.25,
-.29,-.29,-.29,-.29,
-.355,-.355,
-.4,-.4,-.4,
-.43,-.43,
-.51,-.51,-.51,
-.56,-.56,-.56,-.56,-.56,-.56,
-.62,-.62,-.62,-.62,-.62,-.62,
-.71,-.71,-.71,
-.77,-.77,-.77,-.77,
-.82,-.82,
-.88,-.88,-.88,-.88,
-1,-1,-1,-1,-1,-1,
-.39,-.26,-.13,0,.13,
-.46,-.33,-.2,-.07,.07,.2,.33,
-.52,-.39,-.26,-.13,0,.13,.26,.39,
-.59,-.46,-.33,-.2,-.07,.07,.2,.33,.46,
-.52,-.39,-.26,-.13,0,.13,.26,.39,.52,
-.59,-.46,-.33,-.2,-.07,.07,.2,.33,.46,.59,
-.65,-.52,-.39,-.26,-.13,0,.13,.26,.39,.52,.65,
-.72,-.59,-.46,-.33,-.2,-.07,.07,.2,.33,.46,.59,.72,
-.77,-.66,-.55,-.44,-.33,-.22,-.11,0,.11,.22,.33,.44,.55,.66,.77,
-.72,-.6,-.5,-.38,-.28,-.16,-.06,.06,.16,.28,.38,.5,.6,.72,
-.77,-.66,-.55,-.44,-.33,-.22,-.11,0,.11,.22,.33,.44,.55,.66,.77,
-.72,-.6,-.5,-.38,-.28,-.16,-.06,.06,.16,.28,.38,.5,.6,.72,
-.77,-.66,-.55,-.44,-.33,-.22,-.11,0,.11,.22,.33,.44,.55,.66,.77,
-.72,-.6,-.5,-.38,-.28,-.16,-.06,.06,.16,.28,.38,.5,.6,.72,
-.77,-.66,-.55,-.44,-.33,-.22,-.11,0,.11,.22,.33,.44,.55,.66,.77,
-.72,-.6,-.5,-.38,-.28,-.16,-.06,.06,.16,.28,.38,.5,.6,.72,
-.77,-.66,-.55,-.44,-.33,-.22,-.11,0,.11,.22,.33,.44,.55,.66,.77,.88,
-.72,-.6,-.5,-.38,-.28,-.16,-.06,.06,.16,.28,.38,.5,.6,.72,
-.77,-.66,-.55,-.44,-.33,-.22,-.11,0,.11,.22,.33,.44,.55,.66,.77,.88,
-.72,-.6,-.5,-.38,-.28,-.16,-.06,.06,.16,.28,.38,.5,.6,.72,
-.77,-.66,-.55,-.44,-.33,-.22,-.11,0,.11,.22,.33,.44,.55,.66,.77,.88,
-.72,-.6,-.5,-.38,-.28,-.16,-.06,.06,.16,.28,.38,.5,.6,.72,
-.77,-.66,-.55,-.44,-.33,-.22,-.11,0,.11,.22,.33,.44,.55,.66,.77,.88,
-.72,-.6,-.5,-.38,-.28,-.16,-.06,.06,.16,.28,.38,.5,.6,.72,
-.77,-.66,-.55,-.44,-.33,-.22,-.11,0,.11,.22,.33,.44,.55,.66,.77,.88,
-.72,-.6,-.5,-.38,-.28,-.16,-.06,.06,.16,.28,.38,.5,.6,.72,
-.77,-.66,-.55,-.44,-.33,-.22,-.11,0,.11,.22,.33,.44,.55,.66,.77,.88,
-.59,-.46,-.33,-.2,-.07,.07,.2,.33,.46,.59,
-.52,-.39,-.26,-.13,0,.13,.26,.39,.52];

const svgNS = 'http://www.w3.org/2000/svg';
const leftPlot = document.getElementById('left-plot');
const rightPlot = document.getElementById('right-plot');
const BLUE = '#169CFC';
const ORANGE = '#D9541E';
const INK = '#262626';

/* axis functions */
function xLeft(v){ return 146 + (v - 5) * 24.506; }
function yLeft(v){ return 1104.3 - (v - 5) * 24.506; }
function xRight(v){ return 1142.7 + (v - 9) * 19.94; }
function yRight(v){ return 676.85 - v * 107.54; }

function make(tag, attrs, parent){
  const el = document.createElementNS(svgNS, tag);
  for (const k in attrs) el.setAttribute(k, attrs[k]);
  parent.appendChild(el);
  return el;
}
function addSquares(parent, xs, ys, xf, yf){
  const n = Math.min(xs.length, ys.length);
  for (let i = 0; i < n; i++){
    const el = make('rect', {x: xf(xs[i]) - 12.8, y: yf(ys[i]) - 12.8, width: 25.6, height: 25.6, fill: 'none', stroke: BLUE, 'stroke-width': 3.7}, parent);
    
    
  }
}
function addDots(parent, xs, ys, xf, yf){
  const n = Math.min(xs.length, ys.length);
  for (let i = 0; i < n; i++){
    const el = make('circle', {cx: xf(xs[i]), cy: yf(ys[i]), r: 6, fill: ORANGE}, parent);
    
    
  }
}
function addFrame(parent, x0, y0, x1, y1){
  const frame = make('rect', {x: x0, y: y0, width: x1 - x0, height: y1 - y0, fill: 'none', stroke: INK, 'stroke-width': 3.6}, parent);
  
  
}
function addTick(parent, x1, y1, x2, y2, name){
  const el = make('line', {x1: x1, y1: y1, x2: x2, y2: y2, stroke: INK, 'stroke-width': 3.3}, parent);
  
  
}
function addText(parent, str, attrs, name){
  const el = make('text', attrs, parent);
  el.textContent = str;
  
  
  return el;
}

/* left chart */
addSquares(leftPlot, withActual, withMeasured, xLeft, yLeft);
addDots(leftPlot, withoutActual, withoutMeasured, xLeft, yLeft);
const identity = make('line', {x1: xLeft(5), y1: yLeft(5), x2: xLeft(39.6), y2: yLeft(39.6), stroke: '#404040', 'stroke-width': 4, 'stroke-dasharray': '26 14.4'}, leftPlot);


addFrame(leftPlot, 146, 246.7, 1003.7, 1104.3);
leftTicks.forEach(function(t){
  const x = xLeft(t), y = yLeft(t);
  if (t !== 5 && t !== 40){
    addTick(leftPlot, x, 1104.3, x, 1094.3, 'x-tick');
    addTick(leftPlot, x, 246.7, x, 256.7, 'x-tick-top');
    addTick(leftPlot, 146, y, 156, y, 'y-tick');
    addTick(leftPlot, 1003.7, y, 993.7, y, 'y-tick-right');
  }
  addText(leftPlot, String(t), {x: x, y: 1169, 'font-size': 47, fill: INK, 'text-anchor': 'middle'}, 'x-tick-label');
  addText(leftPlot, String(t), {x: 125, y: y + 18, 'font-size': 47, fill: INK, 'text-anchor': 'end'}, 'y-tick-label');
});
addText(leftPlot, 'Actual respiratory rate (bpm)', {x: 255.5, y: 1236, 'font-size': 55, fill: INK, textLength: 638, lengthAdjust: 'spacingAndGlyphs'}, 'x-axis-title');
addText(leftPlot, 'Measured respiratory rate (bpm)', {x: 0, y: 0, 'font-size': 55, fill: INK, textLength: 707, lengthAdjust: 'spacingAndGlyphs', transform: 'translate(62 1029) rotate(-90)'}, 'y-axis-title');

/* right chart */
addSquares(rightPlot, withMean, withDiff, xRight, yRight);
addDots(rightPlot, withoutMean, withoutDiff, xRight, yRight);
const limitColors = [BLUE, ORANGE, ORANGE, BLUE, ORANGE, BLUE];
const limitWidths = [3, 4, 4, 1.5, 4, 3];
const limitOrder = [0, 5, 1, 4, 2, 3];
limitOrder.forEach(function(i){
  const y = yRight(limitValues[i]);
  const line = make('line', {x1: 1142.7, y1: y, x2: 1713, y2: y, stroke: limitColors[i], 'stroke-width': limitWidths[i], 'stroke-dasharray': '27 14.8'}, rightPlot);
  
  
});
addFrame(rightPlot, 1142.7, 246.7, 2000, 1107);
rightXTicks.forEach(function(t){
  const x = xRight(t);
  addTick(rightPlot, x, 1107, x, 1097, 'x-tick');
  addTick(rightPlot, x, 246.7, x, 256.7, 'x-tick-top');
  addText(rightPlot, String(t), {x: x, y: 1171.7, 'font-size': 47, fill: INK, 'text-anchor': 'middle'}, 'x-tick-label');
});
rightYTicks.forEach(function(t, i){
  const y = yRight(t);
  if (t !== 4 && t !== -4){
    addTick(rightPlot, 1142.7, y, 1152.7, y, 'y-tick');
    addTick(rightPlot, 2000, y, 1990, y, 'y-tick-right');
  }
  addText(rightPlot, rightYTickLabels[i], {x: 1122, y: y + 18, 'font-size': 47, fill: INK, 'text-anchor': 'end'}, 'y-tick-label');
});
addText(rightPlot, 'Mean of respiratory rate (bpm)', {x: 1232, y: 1238, 'font-size': 55, fill: INK, textLength: 677, lengthAdjust: 'spacingAndGlyphs'}, 'x-axis-title');
addText(rightPlot, 'Difference of respiratory rate (bpm)', {x: 0, y: 0, 'font-size': 55, fill: INK, textLength: 785, lengthAdjust: 'spacingAndGlyphs', transform: 'translate(1069.3 1070) rotate(-90)'}, 'y-axis-title');

const noteTexts = ['1.31(+1.96SD)','1.12(+1.96SD)','0.004(MD)','-0.007(MD)','-1.13(-1.96SD)','-1.30(-1.96SD)'];
const noteColors = [BLUE, ORANGE, BLUE, ORANGE, ORANGE, BLUE];
const noteLeft = [1739, 1738, 1742, 1731, 1727.5, 1727.5];
const noteRight = [1986, 1986, 1931, 1931, 1981, 1980];
const noteBaseline = [540, 584, 671.7, 710.7, 798.7, 842];
noteTexts.forEach(function(s, i){
  addText(rightPlot, s, {x: noteLeft[i], y: noteBaseline[i], 'font-size': 41, fill: noteColors[i], textLength: noteRight[i] - noteLeft[i], lengthAdjust: 'spacingAndGlyphs'}, 'limit-annotation');
});
</script>
</body>
</html>
